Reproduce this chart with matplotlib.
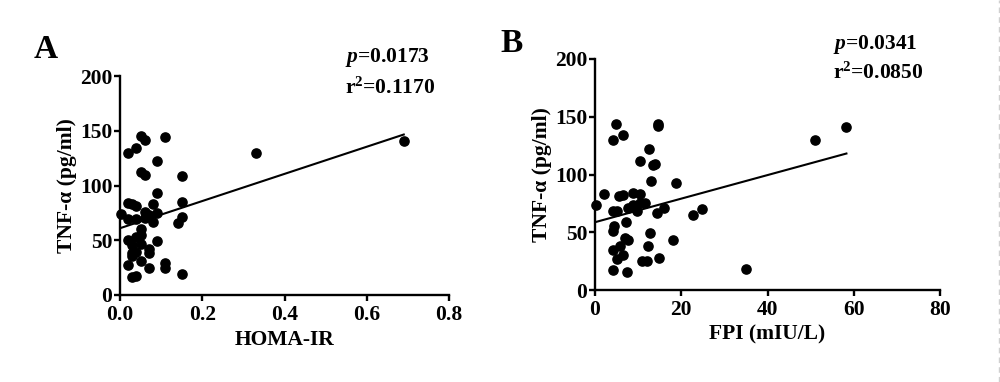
import matplotlib
matplotlib.use("Agg")
import matplotlib.pyplot as plt
from matplotlib.lines import Line2D

# Panel A: HOMA-IR vs TNF-alpha
homa = [0.002, 0.02, 0.04, 0.05, 0.06, 0.11, 0.09, 0.05, 0.06, 0.15,
        0.33, 0.69, 0.09, 0.02, 0.03, 0.04, 0.08, 0.15, 0.06, 0.07,
        0.09, 0.02, 0.04, 0.06, 0.08, 0.15, 0.14, 0.05, 0.05, 0.04,
        0.02, 0.09, 0.03, 0.05, 0.07, 0.03, 0.04, 0.07, 0.03, 0.05,
        0.02, 0.07, 0.11, 0.11, 0.03, 0.04, 0.15]
tnf_a = [74, 130, 134, 145, 142, 144, 122, 112, 110, 109,
         130, 141, 93, 84, 83, 81, 83, 85, 76, 73,
         75, 69, 69, 70, 67, 71, 66, 60, 55, 53,
         50, 49, 46, 47, 42, 38, 39, 38, 36, 31,
         27, 25, 29, 25, 16, 17, 19]
fit_a = (61.0, 124.0)          # intercept, slope
stats_a = ("0.0173", "0.1170")

# Panel B: FPI vs TNF-alpha
fpi = [0.15, 2.2, 4.1, 4.9, 6.6, 4.1, 5.2, 5.6, 6.4, 4.1,
       4.5, 4.2, 5.2, 5.7, 6.6, 4.2, 7.4, 7.3, 6.9, 7.6,
       8.9, 10.4, 7.7, 8.9, 9.7, 10.4, 11.7, 10.4, 12.5, 13.4,
       14.0, 13.0, 14.5, 14.5, 14.3, 16.0, 18.7, 12.7, 12.4, 10.8,
       12.0, 14.9, 18.1, 22.8, 24.8, 35.0, 51.0, 58.3]
tnf_b = [74, 83, 130, 144, 134, 68, 68, 81, 82, 51,
         55, 35, 27, 38, 30, 17, 16, 59, 45, 43,
         84, 83, 71, 74, 68, 75, 75, 112, 122, 108,
         109, 94, 144, 142, 67, 71, 93, 49, 38, 25,
         25, 28, 43, 65, 70, 18, 130, 141]
fit_b = (58.7, 1.02)
stats_b = ("0.0341", "0.0850")

W, H = 1000, 382
FONT = "Liberation Serif"
FS = 15.5

plt.rcParams.update({
    "font.family": FONT, "font.weight": "bold", "font.size": FS,
    "axes.linewidth": 1.7,
    "mathtext.fontset": "custom",
    "mathtext.rm": f"{FONT}:bold",
    "mathtext.it": f"{FONT}:italic:bold",
    "mathtext.bf": f"{FONT}:bold",
})


def px(x, y):
    return x / W, 1 - y / H


def panel(rect, xs, ys, fit, xlim, xticks, xticklabels, xlabel):
    ax = fig.add_axes(rect)
    ax.scatter(xs, ys, s=44, color="black", zorder=3, clip_on=False)
    x0, x1 = min(xs), max(xs)
    b0, b1 = fit
    ax.plot([x0, x1], [b0 + b1 * x0, b0 + b1 * x1], color="black", lw=1.5)
    ax.set_xlim(*xlim)
    ax.set_ylim(0, 200)
    ax.set_xticks(xticks)
    ax.set_xticklabels(xticklabels)
    ax.set_yticks([0, 50, 100, 150, 200])
    ax.tick_params(direction="out", length=4, width=1.7, labelsize=FS)
    ax.tick_params(axis="x", pad=3.5)
    ax.tick_params(axis="y", pad=1.5)
    ax.set_xlabel(xlabel, fontsize=FS, fontweight="bold", labelpad=3)
    ax.set_ylabel("TNF-\u03b1 (pg/ml)", fontsize=FS, fontweight="bold", labelpad=2)
    for s in ("top", "right"):
        ax.spines[s].set_visible(False)
    return ax


fig = plt.figure(figsize=(10, 3.82), dpi=100)

panel([120 / W, 1 - 295 / H, 329 / W, 219 / H], homa, tnf_a, fit_a,
      (0, 0.8), [0, 0.2, 0.4, 0.6, 0.8], ["0.0", "0.2", "0.4", "0.6", "0.8"],
      "HOMA-IR")
panel([595 / W, 1 - 290 / H, 345 / W, 231 / H], fpi, tnf_b, fit_b,
      (0, 80), [0, 20, 40, 60, 80], ["0", "20", "40", "60", "80"],
      "FPI (mIU/L)")

fig.text(*px(34, 58), "A", fontsize=24, fontweight="bold", ha="left", va="baseline")
fig.text(*px(500, 52), "B", fontsize=24, fontweight="bold", ha="left", va="baseline")

fig.text(*px(345, 62), "$p$=" + stats_a[0], fontsize=FS, ha="left", va="baseline")
fig.text(*px(345, 94), "r$^2$=" + stats_a[1], fontsize=FS, ha="left", va="baseline")
fig.text(*px(833, 49), "$p$=" + stats_b[0], fontsize=FS, ha="left", va="baseline")
fig.text(*px(833, 79), "r$^2$=" + stats_b[1], fontsize=FS, ha="left", va="baseline")

fig.add_artist(Line2D([998.5 / W, 998.5 / W], [0, 1], color="#d0d0d0",
                      lw=1, ls=(0, (4, 3))))

fig.savefig("out.png", dpi=100)
